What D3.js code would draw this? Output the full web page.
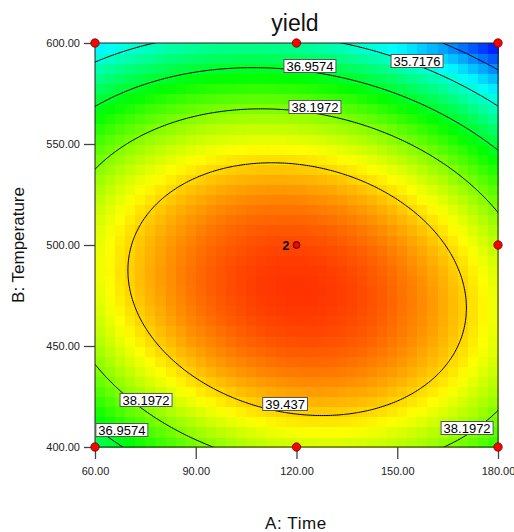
<!DOCTYPE html>
<html>
<head>
<meta charset="utf-8">
<script src="https://cdn.jsdelivr.net/npm/d3@7"></script>
<style>
  body { margin: 0; background: #fff; }
  svg { display: block; font-family: "Liberation Sans", Arial, sans-serif; }
</style>
</head>
<body>
<svg id="chart" width="514" height="532"></svg>
<script>
// Factor ranges and axis ticks
const timeRange = [60, 180];
const tempRange = [400, 600];
const timeTicks = [60, 90, 120, 150, 180];
const tempTicks = [400, 450, 500, 550, 600];

// Quadratic response surface for yield in coded units
// terms: [intercept, A, B, AB, A^2, B^2]
const coefficients = [40.485, -0.14, -1.365, -0.692, -1.735, -3.127];

// Contour levels and where their labels sit
const contourLevels = [34.4778, 35.7176, 36.9574, 38.1972, 39.437];
const labelValues = ["36.9574", "35.7176", "38.1972", "39.437", "38.1972", "36.9574", "38.1972"];
const labelTime = [124.0, 155.9, 125.5, 116.6, 75.2, 68.0, 170.8];
const labelTemp = [588.6, 591.1, 568.3, 421.3, 423.3, 408.4, 409.4];

// Design points
const designTime = [60, 120, 180, 180, 60, 120, 180];
const designTemp = [600, 600, 600, 500, 400, 400, 400];
const centerTime = [120];
const centerTemp = [500];
const centerReps = ["2"];

const cells = 40;

const svg = d3.select("#chart");
const plot = { left: 95, right: 498, top: 43, bottom: 447 };

const x = d3.scaleLinear().domain(timeRange).range([plot.left, plot.right]);
const y = d3.scaleLinear().domain(tempRange).range([plot.bottom, plot.top]);

function yieldAt(a, b) {
  const xa = (a - 120) / 60, xb = (b - 500) / 100;
  const c = coefficients;
  return c[0] + c[1] * xa + c[2] * xb + c[3] * xa * xb + c[4] * xa * xa + c[5] * xb * xb;
}

// Heat map cells
const dA = (timeRange[1] - timeRange[0]) / cells;
const dB = (tempRange[1] - tempRange[0]) / cells;
const cellData = [];
for (let j = 0; j < cells; j++) {
  for (let i = 0; i < cells; i++) {
    const a0 = timeRange[0] + i * dA, b0 = tempRange[0] + j * dB;
    cellData.push({ a0, b0, v: yieldAt(a0 + dA / 2, b0 + dB / 2) });
  }
}
const vExt = d3.extent(cellData, d => d.v);
const hue = d3.scaleLinear().domain(vExt).range([232, 12]);
const colorOf = v => d3.hsl(hue(v), 1, 0.5).toString();

svg.append("g")
  .selectAll("rect")
  .data(cellData)
  .join("rect")
  .attr("x", d => x(d.a0))
  .attr("y", d => y(d.b0 + dB))
  .attr("width", d => x(d.a0 + dA) - x(d.a0) + 0.6)
  .attr("height", d => y(d.b0) - y(d.b0 + dB) + 0.6)
  .attr("fill", d => colorOf(d.v))
  .attr("shape-rendering", "crispEdges");

// Contour lines on a fine grid extending past the frame, clipped to it
svg.append("defs").append("clipPath").attr("id", "plotClip")
  .append("rect")
  .attr("x", plot.left).attr("y", plot.top)
  .attr("width", plot.right - plot.left).attr("height", plot.bottom - plot.top);

const n = 240;
const aLo = timeRange[0] - 6, aHi = timeRange[1] + 6;
const bLo = tempRange[0] - 10, bHi = tempRange[1] + 10;
const sa = (aHi - aLo) / n, sb = (bHi - bLo) / n;
const grid = new Array(n * n);
for (let j = 0; j < n; j++) {
  for (let i = 0; i < n; i++) {
    grid[j * n + i] = yieldAt(aLo + (i + 0.5) * sa, bHi - (j + 0.5) * sb);
  }
}
const contours = d3.contours().size([n, n]).thresholds(contourLevels)(grid);
const path = d3.geoPath(d3.geoTransform({
  point(gx, gy) { this.stream.point(x(aLo + gx * sa), y(bHi - gy * sb)); }
}));
svg.append("g")
  .attr("clip-path", "url(#plotClip)")
  .selectAll("path")
  .data(contours)
  .join("path")
  .attr("d", path)
  .attr("fill", "none")
  .attr("stroke", "#000")
  .attr("stroke-width", 1);

// Frame
svg.append("rect")
  .attr("x", plot.left).attr("y", plot.top)
  .attr("width", plot.right - plot.left).attr("height", plot.bottom - plot.top)
  .attr("fill", "none").attr("stroke", "#222").attr("stroke-width", 1);

// Axes
const fmt = d3.format(".2f");
const xAxis = svg.append("g")
  .attr("transform", `translate(0,${plot.bottom})`)
  .call(d3.axisBottom(x).tickValues(timeTicks).tickFormat(fmt).tickSize(12).tickSizeOuter(0));
const yAxis = svg.append("g")
  .attr("transform", `translate(${plot.left},0)`)
  .call(d3.axisLeft(y).tickValues(tempTicks).tickFormat(fmt).tickSize(11).tickSizeOuter(0));
[xAxis, yAxis].forEach(g => {
  g.select(".domain").remove();
  g.selectAll(".tick line").attr("stroke", "#444").attr("stroke-width", 1.3);
  g.selectAll(".tick text").attr("fill", "#222")
    .style("font-family", "'Liberation Sans', Arial, sans-serif").style("font-size", "11px");
});
xAxis.selectAll(".tick text").attr("dy", null).attr("y", 28);
yAxis.selectAll(".tick text").attr("x", -15).attr("dy", "0.35em");

// Contour labels
const labels = svg.append("g");
labelValues.forEach((t, k) => {
  const g = labels.append("g").attr("transform", `translate(${x(labelTime[k])},${y(labelTemp[k])})`);
  const rect = g.append("rect");
  const text = g.append("text")
    .attr("text-anchor", "middle").attr("dy", "0.36em")
    .style("font-size", "13px").attr("fill", "#000").text(t);
  const w = text.node().getComputedTextLength() + 5;
  rect.attr("x", -w / 2).attr("y", -6.5).attr("width", w).attr("height", 13)
    .attr("fill", "#fff").attr("stroke", "#555").attr("stroke-width", 1);
});

// Design points
svg.append("g")
  .selectAll("circle")
  .data(designTime.map((a, k) => [a, designTemp[k]]))
  .join("circle")
  .attr("cx", d => x(d[0])).attr("cy", d => y(d[1])).attr("r", 4.2)
  .attr("fill", "#f00").attr("stroke", "#600").attr("stroke-width", 0.8);

centerTime.forEach((a, k) => {
  svg.append("circle")
    .attr("cx", x(a)).attr("cy", y(centerTemp[k])).attr("r", 3.4)
    .attr("fill", "#f00").attr("stroke", "#300").attr("stroke-width", 1);
  svg.append("text")
    .attr("x", x(a) - 7).attr("y", y(centerTemp[k])).attr("dy", "0.36em")
    .attr("text-anchor", "end").style("font-size", "13px").style("font-weight", "bold")
    .attr("fill", "#111").text(centerReps[k]);
});

// Title and axis titles
svg.append("text")
  .attr("x", 295).attr("y", 31).attr("text-anchor", "middle")
  .style("font-size", "23px").attr("fill", "#111").text("yield");
svg.append("text")
  .attr("x", 296).attr("y", 529).attr("text-anchor", "middle")
  .style("font-size", "17px").style("letter-spacing", "0.6px").attr("fill", "#111").text("A: Time");
svg.append("text")
  .attr("transform", `translate(24,${(plot.top + plot.bottom) / 2}) rotate(-90)`)
  .attr("text-anchor", "middle")
  .style("font-size", "17px").attr("fill", "#111").text("B: Temperature");
</script>
</body>
</html>
